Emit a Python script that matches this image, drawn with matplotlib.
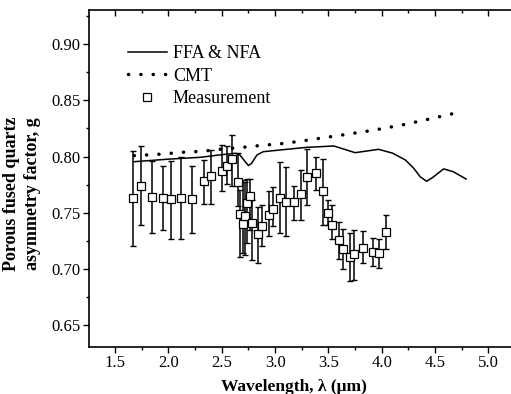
import matplotlib
matplotlib.use("Agg")
import matplotlib.pyplot as plt
from matplotlib.ticker import MultipleLocator

plt.rcParams['font.family'] = ['Liberation Serif', 'DejaVu Serif']

# ---- data ----
wl_meas = [1.672, 1.746, 1.847, 1.947, 2.022, 2.116, 2.222, 2.331, 2.400, 2.503,
           2.550, 2.599, 2.650, 2.671, 2.697, 2.718, 2.740, 2.762, 2.787, 2.843,
           2.875, 2.943, 2.978, 3.049, 3.103, 3.178, 3.240, 3.299, 3.381, 3.447,
           3.499, 3.537, 3.597, 3.634, 3.700, 3.737, 3.824, 3.921, 3.977, 4.037]
g_meas = [0.763, 0.774, 0.764, 0.763, 0.762, 0.763, 0.762, 0.778, 0.783, 0.787,
          0.792, 0.798, 0.777, 0.749, 0.740, 0.747, 0.759, 0.765, 0.741, 0.731,
          0.7385, 0.748, 0.753, 0.763, 0.760, 0.760, 0.767, 0.782, 0.785, 0.769,
          0.750, 0.739, 0.726, 0.718, 0.711, 0.713, 0.719, 0.715, 0.714, 0.733]
g_upper = [0.805, 0.809, 0.796, 0.792, 0.796, 0.800, 0.792, 0.797, 0.806, 0.810,
           0.809, 0.819, 0.803, 0.770, 0.779, 0.777, 0.780, 0.780, 0.761, 0.755,
           0.757, 0.769, 0.773, 0.795, 0.791, 0.774, 0.788, 0.807, 0.800, 0.798,
           0.761, 0.757, 0.742, 0.736, 0.732, 0.735, 0.734, 0.728, 0.7265, 0.748]
g_lower = [0.7205, 0.739, 0.732, 0.735, 0.727, 0.7265, 0.732, 0.758, 0.758, 0.769,
           0.776, 0.774, 0.756, 0.711, 0.714, 0.7125, 0.723, 0.735, 0.708, 0.705,
           0.7205, 0.729, 0.738, 0.732, 0.729, 0.7436, 0.744, 0.757, 0.770, 0.739,
           0.739, 0.727, 0.709, 0.700, 0.689, 0.690, 0.705, 0.7027, 0.7007, 0.7178]

wl_ffa = [1.68, 1.99, 2.30, 2.48, 2.63, 2.67, 2.72, 2.75, 2.78, 2.83, 2.89, 3.11,
          3.30, 3.42, 3.55, 3.75, 3.97, 4.10, 4.22, 4.30, 4.36, 4.42, 4.48, 4.58,
          4.67, 4.79]
g_ffa = [0.7954, 0.7976, 0.7993, 0.8014, 0.8029, 0.8014, 0.7954, 0.7919, 0.794,
         0.8014, 0.8043, 0.8064, 0.8082, 0.8087, 0.8094, 0.8034, 0.8064, 0.8030,
         0.797, 0.7895, 0.782, 0.778, 0.7816, 0.789, 0.7865, 0.780]

wl_cmt = [1.68, 1.80, 1.91, 2.03, 2.13, 2.25, 2.37, 2.48, 2.70, 2.82, 2.92, 3.03,
          3.23, 3.57, 3.92, 4.22, 4.45, 4.68]
g_cmt = [0.8008, 0.8014, 0.802, 0.8029, 0.8038, 0.8043, 0.8052, 0.8064, 0.8082,
         0.8094, 0.8103, 0.8111, 0.8135, 0.8183, 0.8233, 0.8286, 0.8334, 0.8384]

x_ticks = [1.5, 2.0, 2.5, 3.0, 3.5, 4.0, 4.5, 5.0]
y_ticks = [0.65, 0.70, 0.75, 0.80, 0.85, 0.90]

# ---- figure ----
fig = plt.figure(figsize=(5.11, 3.94), dpi=100)
ax = fig.add_axes([89/511, 1-346.7/394, (511-89)/511, (346.7-10)/394])

yerr = [[m - l for m, l in zip(g_meas, g_lower)],
        [u - m for m, u in zip(g_meas, g_upper)]]

ax.plot(wl_ffa, g_ffa, '-', color='black', lw=1.1, label='FFA & NFA')
ax.plot(wl_cmt, g_cmt, color='black', lw=2.5, linestyle=(0, (0.05, 3.5)),
        dash_capstyle='round', label='CMT')
ax.errorbar(wl_meas, g_meas, yerr=yerr, fmt='none', ecolor='black',
            elinewidth=1.1, capsize=2.5, capthick=1.0)
ax.plot(wl_meas, g_meas, 's', ms=6.2, mfc='white', mec='black', mew=0.9,
        linestyle='none', label='Measurement')

ax.set_xlim(1.256, 5.211)
ax.set_ylim(0.631, 0.9302)
ax.set_xticks(x_ticks)
ax.set_xticklabels([f"{v:.1f}" for v in x_ticks])
ax.set_yticks(y_ticks)
ax.set_yticklabels([f"{v:.2f}" for v in y_ticks])
ax.xaxis.set_minor_locator(MultipleLocator(0.25))
ax.yaxis.set_minor_locator(MultipleLocator(0.025))

ax.tick_params(axis='both', which='major', labelsize=12, direction='out',
               length=4, width=1, pad=2)
ax.tick_params(axis='both', which='minor', direction='out', length=2.5, width=1)
ax.tick_params(axis='x', which='both', top=True, labeltop=False)
ax.spines['right'].set_visible(False)
for s in ['left', 'bottom', 'top']:
    ax.spines[s].set_linewidth(1.2)

# top ticks point inward
for t in ax.xaxis.get_major_ticks() + ax.xaxis.get_minor_ticks():
    t.tick2line.set_marker(matplotlib.lines.TICKDOWN)

leg = ax.legend(loc='upper left', bbox_to_anchor=(0.075, 0.918), frameon=False,
                fontsize=13, handlelength=2.15, handletextpad=0.35,
                labelspacing=0.32, borderaxespad=0)

fig.text(22/511, 1-194/394, 'Porous fused quartz\nasymmetry factor, g',
         rotation=90, ha='center', va='center', fontsize=13,
         fontweight='bold', linespacing=1.25)
fig.text(294/511, 1-387/394, 'Wavelength, λ (μm)', ha='center', va='center',
         fontsize=12.5, fontweight='bold')

fig.savefig('out.png', dpi=100)
